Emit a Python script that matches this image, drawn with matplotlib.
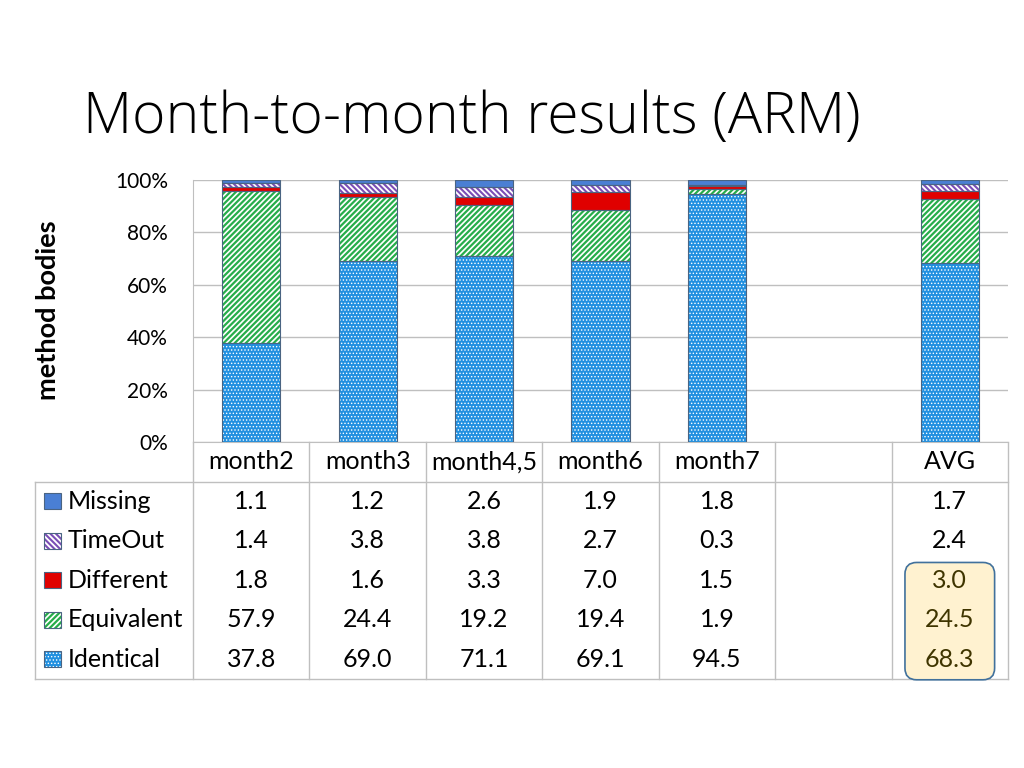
import numpy as np
import matplotlib
matplotlib.use('Agg')
import matplotlib.pyplot as plt
from matplotlib.patches import Rectangle, FancyBboxPatch

plt.rcParams['font.family'] = ['Lato', 'DejaVu Sans']
plt.rcParams['hatch.linewidth'] = 1.3

# data
categories = ['month2', 'month3', 'month4,5', 'month6', 'month7', '', 'AVG']
series = ['Missing', 'TimeOut', 'Different', 'Equivalent', 'Identical']
missing = [1.1, 1.2, 2.6, 1.9, 1.8, np.nan, 1.7]
timeout = [1.4, 3.8, 3.8, 2.7, 0.3, np.nan, 2.4]
different = [1.8, 1.6, 3.3, 7.0, 1.5, np.nan, 3.0]
equivalent = [57.9, 24.4, 19.2, 19.4, 1.9, np.nan, 24.5]
identical = [37.8, 69.0, 71.1, 69.1, 94.5, np.nan, 68.3]
y_ticks = [0, 20, 40, 60, 80, 100]

values = {'Missing': missing, 'TimeOut': timeout, 'Different': different,
          'Equivalent': equivalent, 'Identical': identical}
# face, hatch colour, hatch, hatch width
styles = {
    'Identical': ('#2190e0', 'white', '.....', 0.6),
    'Equivalent': ('white', '#26ad4a', '//////', 1.6),
    'Different': ('#e00000', '#a00000', None, 1.0),
    'TimeOut': ('white', '#7a4db5', '\\\\\\\\\\\\', 1.5),
    'Missing': ('#4a7fd4', '#4a7fd4', None, 1.0),
}
outline = '#4a6482'
grid_c = '#bfbfbf'


def set_hw(patches, w):
    for p in patches:
        if hasattr(p, 'set_hatch_linewidth'):
            p.set_hatch_linewidth(w)


W, H = 1024, 768
fig = plt.figure(figsize=(W / 100, H / 100), dpi=100)

# bar chart area
ax = fig.add_axes([193 / W, 326 / H, 815 / W, 262 / H])
x = np.arange(len(categories))
totals = np.nansum([values[s] for s in series], axis=0)
has = totals > 0
bottom = np.zeros(len(categories))
bw = 0.5
for name in series[::-1]:
    v = np.array(values[name], dtype=float)
    pct = np.zeros(len(categories))
    pct[has] = v[has] / totals[has] * 100
    face, hc, hatch, hw = styles[name]
    bars = ax.bar(x[has], pct[has], bw, bottom=bottom[has], color=face,
                  edgecolor=hc, hatch=hatch, linewidth=0, zorder=2)
    set_hw(bars, hw)
    ax.bar(x[has], pct[has], bw, bottom=bottom[has], fill=False,
           edgecolor=outline, linewidth=0.8, zorder=3)
    bottom += pct

ax.set_xlim(-0.5, len(categories) - 0.5)
ax.set_ylim(0, 100)
ax.set_yticks(y_ticks)
ax.set_yticklabels([f'{t}%' for t in y_ticks], fontsize=15)
ax.set_xticks([])
ax.tick_params(axis='y', length=0, pad=18)
ax.yaxis.grid(True, color=grid_c, linewidth=1, zorder=0)
ax.set_axisbelow(True)
for s in ['top', 'right']:
    ax.spines[s].set_visible(False)
for s in ['left', 'bottom']:
    ax.spines[s].set_color(grid_c)

fig.text(48 / W, 1 - 310 / H, 'method bodies', rotation=90, ha='center',
         va='center', fontsize=19.5, fontweight='bold')
fig.text(83 / W, 1 - 133 / H, 'Month-to-month results (ARM)', fontsize=41,
         va='baseline', family=['Open Sans', 'Lato', 'DejaVu Sans'],
         fontweight='light')

# data table under the bars
slot = 815 / len(categories)
left = -0.5 - 158 / slot
n_rows = len(series) + 1
tax = fig.add_axes([35 / W, (H - 679) / H, 973 / W, 237 / H])
tax.set_xlim(left, len(categories) - 0.5)
tax.set_ylim(n_rows, 0)
tax.axis('off')

for i in range(len(categories) + 1):
    tax.plot([i - 0.5, i - 0.5], [0, n_rows], color=grid_c, lw=1, clip_on=False)
tax.plot([left, left], [1, n_rows], color=grid_c, lw=1, clip_on=False)
for yy in [1, n_rows]:
    tax.plot([left, len(categories) - 0.5], [yy, yy], color=grid_c, lw=1,
             clip_on=False)

# highlighted averages
box = FancyBboxPatch((6 - 0.385, 3.05), 0.77, 2.97,
                     boxstyle='round,pad=0,rounding_size=0.1',
                     mutation_aspect=slot / 39.5,
                     facecolor='#fff2d0', edgecolor='#41719c', lw=1.2,
                     zorder=3, clip_on=False)
tax.add_patch(box)

fs = 18
for i, c in enumerate(categories):
    tax.text(i, 0.5, c, ha='center', va='center', fontsize=fs)

sw_w = 17 / slot
sw_h = 16 / 39.5
for r, name in enumerate(series):
    yc = r + 1.5
    face, hc, hatch, hw = styles[name]
    sw = Rectangle((left + 9 / slot, yc - sw_h / 2), sw_w, sw_h,
                   facecolor=face, edgecolor=hc, hatch=hatch, lw=0, zorder=4)
    set_hw([sw], hw)
    tax.add_patch(sw)
    tax.add_patch(Rectangle((left + 9 / slot, yc - sw_h / 2), sw_w, sw_h,
                            fill=False, edgecolor=outline, lw=0.8, zorder=5))
    tax.text(left + 33 / slot, yc, name, ha='left', va='center', fontsize=fs)
    for i, v in enumerate(values[name]):
        if np.isnan(v):
            continue
        col = '#3f3500' if (i == 6 and r >= 2) else 'black'
        tax.text(i, yc, f'{v:.1f}', ha='center', va='center', fontsize=fs,
                 color=col, zorder=6)

fig.savefig('out.png', dpi=100)
